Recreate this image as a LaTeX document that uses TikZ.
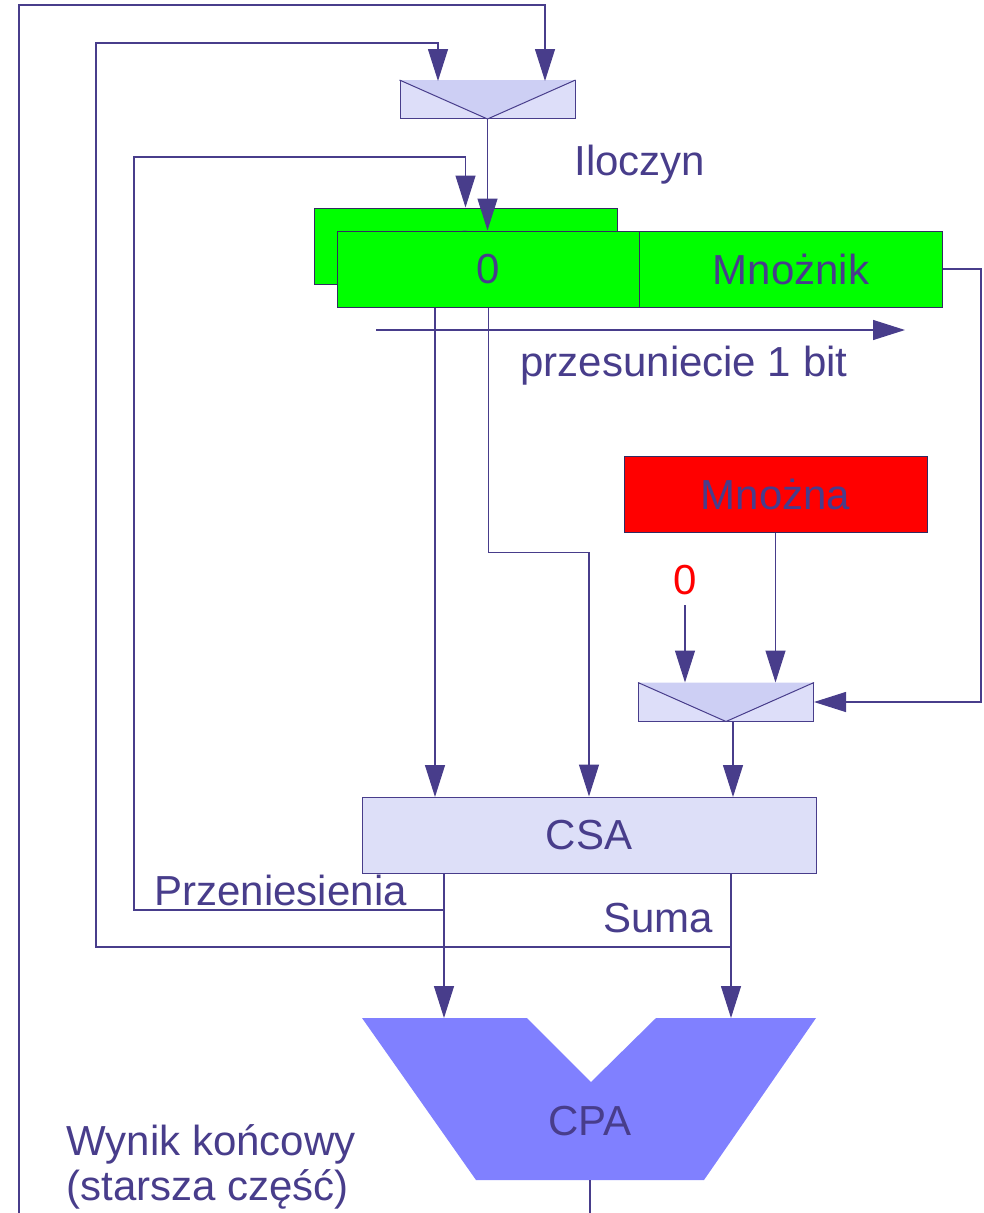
\documentclass[tikz,border=0pt]{standalone}
\usepackage{fontspec}
\setmainfont{Liberation Sans}
\usetikzlibrary{arrows.meta,positioning}
\definecolor{ink}{HTML}{483D8B}
\definecolor{muxlight}{HTML}{DDDEF9}
\definecolor{muxdark}{HTML}{CDCFF4}
\definecolor{csafill}{HTML}{DDDFF8}
\definecolor{cpablue}{HTML}{8080FF}
\tikzset{
  arr/.style={-{Triangle[width=20pt,length=32pt]}},
  lbl/.style={font=\fontsize{42}{50}\selectfont,inner sep=0pt},
  mux/.style={draw=ink,fill=muxlight,line width=1pt,minimum width=175,minimum height=38,inner sep=0pt},
  muxv/.style={fill=muxdark,line width=1pt},
  reg/.style={lbl,draw=ink!70!black,line width=1pt,fill=green,minimum width=303,minimum height=76}
}
\begin{document}
\begin{tikzpicture}[x=1pt,y=-1pt,line width=1.2pt,color=ink]
\useasboundingbox (0,0) rectangle (983,1213);
\node[mux] (muxA) at (487.5,99.5) {};
\draw[muxv] (muxA.north west) -- (muxA.south) -- (muxA.north east);
\node[reg] (regB) at (465.5,246) {0};
\node[reg] (regP) at (488.5,269) {0};
\node[reg] (regM) at (791,269) {Mnożnik};
\node[reg,fill=red] (mnozna) at (775.5,494) {Mnożna};
\node[lbl,text=red,inner ysep=10pt] (zero) at (685,580) {0};
\node[mux] (muxB) at (726,702) {};
\draw[muxv] (muxB.north west) -- (muxB.south) -- (muxB.north east);
\node[lbl,draw=ink,fill=csafill,line width=1pt,minimum width=454,minimum height=76] (csa) at (589,835) {CSA};
\fill[cpablue] (362,1018) -- (527,1018) -- (591,1082) -- (656,1018) -- (816,1018) -- (704,1180) -- (476,1180) -- cycle;
\node[lbl] (cpa) at (590,1121) {CPA};
\node[lbl,anchor=base west] (iloczyn) at (574,175) {Iloczyn};
\node[lbl,anchor=base west] (shiftTxt) at (520,376) {przesuniecie 1 bit};
\node[lbl,anchor=base west] (przen) at (154,905) {Przeniesienia};
\node[lbl,anchor=base west] (suma) at (603,932) {Suma};
\node[lbl,anchor=base west] (wynik) at (66,1155) {Wynik końcowy};
\node[lbl,anchor=base west] (starsza) at (66,1200) {(starsza część)};
\coordinate (outStart) at (19,1213);
\coordinate (outBend) at (19,5);
\coordinate (muxAinR) at (545,81);
\coordinate (muxAinL) at (438,81);
\coordinate (sumTap) at (731,947);
\coordinate (sumBend) at (96,43);
\coordinate (carryTap) at (444,910);
\coordinate (carryBend) at (134,157);
\coordinate (shiftL) at (376,330);
\coordinate (shiftR) at (905,330);
\coordinate (csaInL) at (435,797);
\coordinate (csaInR) at (733,797);
\coordinate (cpaInL) at (444,1018);
\coordinate (cpaInR) at (731,1018);
\coordinate (cpaOut) at (590,1180);
\coordinate (outEnd) at (590,1213);
\draw[arr] (outStart) -- (outBend) -| (muxAinR);
\draw[arr] (sumTap) -| (sumBend) -| (muxAinL);
\draw[arr] (carryTap) -| (carryBend) -| (regB.north);
\draw[arr] (muxA.south) -- (muxA.south |- regP.north);
\draw[arr] (shiftL) -- (shiftR);
\draw[arr] (regM.east) -- ++(38,0) |- (muxB.east);
\draw[arr] (csaInL |- regP.south) -- (csaInL);
\draw[arr] (regP.south) -- ++(0,245) -| (csa.north);
\draw[arr] (mnozna.south) -- (mnozna.south |- muxB.north);
\draw[arr] (zero.south) -- (zero.south |- muxB.north);
\draw[arr] (csaInR |- muxB.south) -- (csaInR);
\draw[arr] (cpaInL |- csa.south) -- (cpaInL);
\draw[arr] (cpaInR |- csa.south) -- (cpaInR);
\draw (cpaOut) -- (outEnd);
\end{tikzpicture}
\end{document}
